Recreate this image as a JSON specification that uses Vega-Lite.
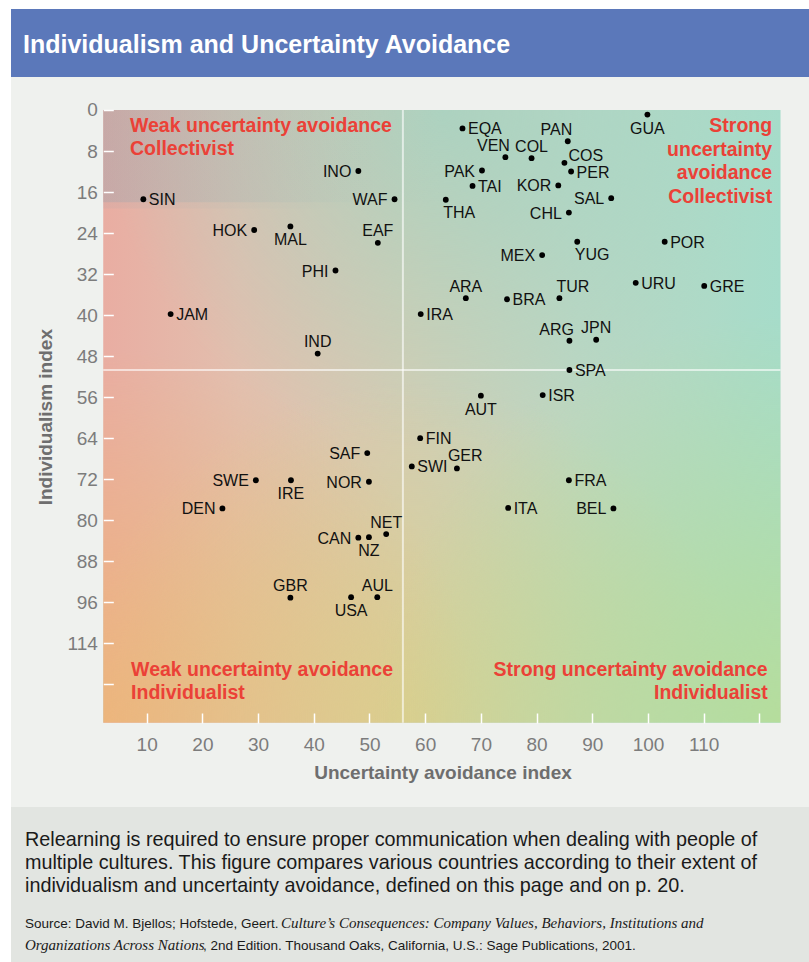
{
  "$schema": "https://vega.github.io/schema/vega-lite/v6.json",
  "padding": {"left": 11, "top": 9, "right": 0, "bottom": 0},
  "background": "#ffffff",
  "spacing": 0,
  "config": {"view": {"stroke": null}, "font": "Liberation Sans"},
  "datasets": {
    "countries": [
      {"c": "SIN", "uai": 9.4, "idv": 17.4},
      {"c": "HOK", "uai": 29.3, "idv": 23.4},
      {"c": "MAL", "uai": 35.8, "idv": 22.7},
      {"c": "INO", "uai": 48.0, "idv": 11.9},
      {"c": "WAF", "uai": 54.5, "idv": 17.4},
      {"c": "EAF", "uai": 51.5, "idv": 25.9},
      {"c": "PHI", "uai": 43.9, "idv": 31.3},
      {"c": "JAM", "uai": 14.3, "idv": 39.8},
      {"c": "IND", "uai": 40.7, "idv": 47.5},
      {"c": "EQA", "uai": 66.7, "idv": 3.6},
      {"c": "VEN", "uai": 74.4, "idv": 9.2},
      {"c": "COL", "uai": 79.1, "idv": 9.4},
      {"c": "PAN", "uai": 85.6, "idv": 6.1},
      {"c": "COS", "uai": 85.0, "idv": 10.3},
      {"c": "PER", "uai": 86.2, "idv": 12.0},
      {"c": "GUA", "uai": 99.9, "idv": 0.9},
      {"c": "PAK", "uai": 70.2, "idv": 11.8},
      {"c": "TAI", "uai": 68.5, "idv": 14.8},
      {"c": "KOR", "uai": 83.9, "idv": 14.7},
      {"c": "SAL", "uai": 93.4, "idv": 17.2},
      {"c": "THA", "uai": 63.7, "idv": 17.5},
      {"c": "CHL", "uai": 85.8, "idv": 20.0},
      {"c": "POR", "uai": 103.0, "idv": 25.7},
      {"c": "MEX", "uai": 81.0, "idv": 28.3},
      {"c": "YUG", "uai": 87.3, "idv": 25.7},
      {"c": "URU", "uai": 97.8, "idv": 33.7},
      {"c": "GRE", "uai": 110.1, "idv": 34.3},
      {"c": "ARA", "uai": 67.3, "idv": 36.7},
      {"c": "BRA", "uai": 74.7, "idv": 36.9},
      {"c": "TUR", "uai": 84.1, "idv": 36.7},
      {"c": "IRA", "uai": 59.2, "idv": 39.8},
      {"c": "ARG", "uai": 85.9, "idv": 45.0},
      {"c": "JPN", "uai": 90.7, "idv": 44.8},
      {"c": "SPA", "uai": 85.9, "idv": 50.7},
      {"c": "AUT", "uai": 70.0, "idv": 55.7},
      {"c": "ISR", "uai": 81.1, "idv": 55.6},
      {"c": "FIN", "uai": 59.1, "idv": 64.0},
      {"c": "SWI", "uai": 57.6, "idv": 69.5},
      {"c": "GER", "uai": 65.7, "idv": 69.9},
      {"c": "SAF", "uai": 49.6, "idv": 66.9},
      {"c": "SWE", "uai": 29.6, "idv": 72.2},
      {"c": "IRE", "uai": 35.9, "idv": 72.2},
      {"c": "NOR", "uai": 49.9, "idv": 72.5},
      {"c": "DEN", "uai": 23.6, "idv": 77.7},
      {"c": "FRA", "uai": 85.8, "idv": 72.2},
      {"c": "ITA", "uai": 74.9, "idv": 77.6},
      {"c": "BEL", "uai": 93.8, "idv": 77.7},
      {"c": "CAN", "uai": 48.0, "idv": 83.4},
      {"c": "NZ", "uai": 49.9, "idv": 83.3},
      {"c": "NET", "uai": 53.0, "idv": 82.7},
      {"c": "GBR", "uai": 35.8, "idv": 95.1},
      {"c": "USA", "uai": 46.7, "idv": 95.0},
      {"c": "AUL", "uai": 51.4, "idv": 95.0}
    ]
  },
  "vconcat": [
    {
      "width": 798,
      "height": 68,
      "view": {"fill": "#5b78ba", "stroke": null},
      "data": {"values": [{"title": "Individualism and Uncertainty Avoidance"}]},
      "mark": {"type": "text", "align": "left", "baseline": "alphabetic", "font": "Liberation Sans", "fontSize": 25, "fontWeight": "bold", "fill": "#ffffff"},
      "encoding": {
        "x": {"datum": 12, "type": "quantitative", "scale": {"domain": [0, 798], "nice": false, "zero": false}, "axis": null},
        "y": {"datum": 43.5, "type": "quantitative", "scale": {"domain": [0, 68], "reverse": true, "nice": false, "zero": false}, "axis": null},
        "text": {"field": "title"}
      }
    },
    {
      "width": 798,
      "height": 730,
      "view": {"fill": "#eff1ee", "stroke": null},
      "layer": [
        {
          "data": {"values": [{"area": "plot"}]},
          "mark": {"type": "rect", "fill": {"gradient": "linear", "x1": 0, "y1": 0, "x2": 1, "y2": 0, "stops": [
            {"offset": 0, "color": "#e9ada2"},
            {"offset": 0.2, "color": "#e2bfae"},
            {"offset": 0.45, "color": "#d3cdb4"},
            {"offset": 0.7, "color": "#bcd6c2"},
            {"offset": 1, "color": "#a6dcca"}
          ]}},
          "encoding": {
            "x": {"datum": 2.2, "type": "quantitative",
              "scale": {"domain": [-14.36, 128.91], "nice": false, "zero": false},
              "axis": {"orient": "bottom", "offset": -94, "zindex": 1,
                "values": [10,15,20,25,30,35,40,45,50,55,60,65,70,75,80,85,90,95,100,105,110,115,120],
                "labelExpr": "datum.value % 10 === 0 && datum.value <= 110 ? datum.label : ''",
                "domain": false, "grid": false, "ticks": true, "tickSize": 10, "tickColor": "#ffffff", "tickWidth": 1.5,
                "labelFont": "Liberation Sans", "labelFontSize": 19, "labelColor": "#7c7c7c", "labelPadding": 12.7,
                "labelFlush": false, "labelOverlap": false,
                "title": "Uncertainty avoidance index", "titleFont": "Liberation Sans", "titleFontSize": 19, "titleFontWeight": "bold",
                "titleColor": "#6e6e6e", "titleX": 431.5, "titleY": 65, "titleAlign": "center", "titleBaseline": "alphabetic"}},
            "x2": {"datum": 123.8},
            "y": {"datum": 0, "type": "quantitative",
              "scale": {"domain": [-6.435, 135.92], "reverse": true, "nice": false, "zero": false},
              "axis": {"orient": "left", "offset": -102.3, "zindex": 1,
                "values": [0,4,8,12,16,20,24,28,32,36,40,44,48,52,56,60,64,68,72,76,80,84,88,92,96,100,104,108,112],
                "labelExpr": "datum.value === 104 ? '114' : (datum.value % 8 === 0 && datum.value <= 96 ? datum.label : '')",
                "domain": false, "grid": false, "ticks": true, "tickSize": 10, "tickColor": "#ffffff", "tickWidth": 1.5,
                "labelFont": "Liberation Sans", "labelFontSize": 19, "labelColor": "#7c7c7c", "labelPadding": 6,
                "labelFlush": false, "labelOverlap": false,
                "title": "Individualism index", "titleFont": "Liberation Sans", "titleFontSize": 19, "titleFontWeight": "bold",
                "titleColor": "#6e6e6e", "titleX": -68.3, "titleY": 339.7, "titleAngle": -90, "titleAlign": "center", "titleBaseline": "middle"}},
            "y2": {"datum": 119.5}
          }
        },
        {
          "data": {"values": [{"area": "top-middle"}]},
          "mark": {"type": "rect", "fill": {"gradient": "radial", "x1": 0.5, "y1": 0.047, "r1": 0, "x2": 0.5, "y2": 0.047, "r2": 0.5, "stops": [
            {"offset": 0, "color": "rgba(150,212,198,0.6)"},
            {"offset": 1, "color": "rgba(150,212,198,0)"}
          ]}},
          "encoding": {"x": {"datum": 2.2, "type": "quantitative"}, "x2": {"datum": 123.8}, "y": {"datum": 0, "type": "quantitative"}, "y2": {"datum": 119.5}}
        },
        {
          "data": {"values": [{"area": "bottom-left"}]},
          "mark": {"type": "rect", "fill": {"gradient": "radial", "x1": 0, "y1": 0.95, "r1": 0, "x2": 0, "y2": 0.95, "r2": 0.55, "stops": [
            {"offset": 0, "color": "rgba(238,180,120,0.9)"},
            {"offset": 1, "color": "rgba(238,180,120,0)"}
          ]}},
          "encoding": {"x": {"datum": 2.2, "type": "quantitative"}, "x2": {"datum": 123.8}, "y": {"datum": 0, "type": "quantitative"}, "y2": {"datum": 119.5}}
        },
        {
          "data": {"values": [{"area": "bottom-middle"}]},
          "mark": {"type": "rect", "fill": {"gradient": "radial", "x1": 0.45, "y1": 0.95, "r1": 0, "x2": 0.45, "y2": 0.95, "r2": 0.5, "stops": [
            {"offset": 0, "color": "rgba(220,208,130,0.7)"},
            {"offset": 1, "color": "rgba(220,208,130,0)"}
          ]}},
          "encoding": {"x": {"datum": 2.2, "type": "quantitative"}, "x2": {"datum": 123.8}, "y": {"datum": 0, "type": "quantitative"}, "y2": {"datum": 119.5}}
        },
        {
          "data": {"values": [{"area": "bottom-right"}]},
          "mark": {"type": "rect", "fill": {"gradient": "radial", "x1": 1, "y1": 0.95, "r1": 0, "x2": 1, "y2": 0.95, "r2": 0.6, "stops": [
            {"offset": 0, "color": "rgba(184,221,148,0.85)"},
            {"offset": 1, "color": "rgba(184,221,148,0)"}
          ]}},
          "encoding": {"x": {"datum": 2.2, "type": "quantitative"}, "x2": {"datum": 123.8}, "y": {"datum": 0, "type": "quantitative"}, "y2": {"datum": 119.5}}
        },
        {
          "data": {"values": [{"area": "top-band"}]},
          "mark": {"type": "rect", "fill": {"gradient": "linear", "x1": 0, "y1": 0, "x2": 1, "y2": 0, "stops": [
            {"offset": 0, "color": "rgba(176,166,170,0.5)"},
            {"offset": 0.18, "color": "rgba(170,180,178,0.32)"},
            {"offset": 0.35, "color": "rgba(165,192,184,0.12)"},
            {"offset": 0.5, "color": "rgba(165,195,185,0)"},
            {"offset": 1, "color": "rgba(165,195,185,0)"}
          ]}},
          "encoding": {"x": {"datum": 2.2, "type": "quantitative"}, "x2": {"datum": 123.8}, "y": {"datum": 0, "type": "quantitative"}, "y2": {"datum": 18.0}}
        },
        {
          "data": {"values": [{"area": "top-band-edge"}]},
          "mark": {"type": "rect", "fill": {"gradient": "linear", "x1": 0, "y1": 0, "x2": 1, "y2": 0, "stops": [
            {"offset": 0, "color": "rgba(176,166,170,0.18)"},
            {"offset": 0.2, "color": "rgba(170,180,178,0.1)"},
            {"offset": 0.4, "color": "rgba(165,195,185,0)"},
            {"offset": 1, "color": "rgba(165,195,185,0)"}
          ]}},
          "encoding": {"x": {"datum": 2.2, "type": "quantitative"}, "x2": {"datum": 123.8}, "y": {"datum": 0, "type": "quantitative"}, "y2": {"datum": 19.2}}
        },
        {
          "data": {"values": [{"divider": "uncertainty avoidance"}]},
          "mark": {"type": "rule", "color": "#ffffff", "opacity": 0.6, "strokeWidth": 2},
          "encoding": {"x": {"datum": 56, "type": "quantitative"}, "y": {"datum": 0, "type": "quantitative"}, "y2": {"datum": 119.5}}
        },
        {
          "data": {"values": [{"divider": "individualism"}]},
          "mark": {"type": "rule", "color": "#ffffff", "opacity": 0.6, "strokeWidth": 2},
          "encoding": {"y": {"datum": 50.7, "type": "quantitative"}, "x": {"datum": 2.2, "type": "quantitative"}, "x2": {"datum": 123.8}}
        },
        {
          "data": {"name": "countries"},
          "mark": {"type": "circle", "size": 34, "color": "#000000", "opacity": 1},
          "encoding": {
            "x": {"field": "uai", "type": "quantitative"},
            "y": {"field": "idv", "type": "quantitative"}
          }
        },
        {
          "data": {"name": "countries"},
          "transform": [{"filter": {"field": "c", "oneOf": ["SIN", "JAM", "IRA", "BRA", "POR", "URU", "GRE", "EQA", "TAI", "PER", "ISR", "FIN", "SWI", "SPA", "FRA", "ITA"]}}],
          "mark": {"type": "text", "align": "left", "baseline": "middle", "dx": 5.5, "dy": 1, "font": "Liberation Sans", "fontSize": 16, "fill": "#111111"},
          "encoding": {"x": {"field": "uai", "type": "quantitative"}, "y": {"field": "idv", "type": "quantitative"}, "text": {"field": "c"}}
        },
        {
          "data": {"name": "countries"},
          "transform": [{"filter": {"field": "c", "oneOf": ["COS"]}}],
          "mark": {"type": "text", "align": "left", "baseline": "alphabetic", "dx": 4, "dy": -1.5, "font": "Liberation Sans", "fontSize": 16, "fill": "#111111"},
          "encoding": {"x": {"field": "uai", "type": "quantitative"}, "y": {"field": "idv", "type": "quantitative"}, "text": {"field": "c"}}
        },
        {
          "data": {"name": "countries"},
          "transform": [{"filter": {"field": "c", "oneOf": ["HOK", "INO", "WAF", "PHI", "PAK", "KOR", "SAL", "CHL", "MEX", "SAF", "SWE", "NOR", "DEN", "CAN", "BEL"]}}],
          "mark": {"type": "text", "align": "right", "baseline": "middle", "dx": -7, "dy": 1, "font": "Liberation Sans", "fontSize": 16, "fill": "#111111"},
          "encoding": {"x": {"field": "uai", "type": "quantitative"}, "y": {"field": "idv", "type": "quantitative"}, "text": {"field": "c"}}
        },
        {
          "data": {"name": "countries"},
          "transform": [{"filter": {"field": "c", "oneOf": ["EAF", "IND", "COL", "ARA", "JPN", "NET", "GBR", "AUL"]}}],
          "mark": {"type": "text", "align": "center", "baseline": "alphabetic", "dy": -6.5, "font": "Liberation Sans", "fontSize": 16, "fill": "#111111"},
          "encoding": {"x": {"field": "uai", "type": "quantitative"}, "y": {"field": "idv", "type": "quantitative"}, "text": {"field": "c"}}
        },
        {
          "data": {"name": "countries"},
          "transform": [{"filter": {"field": "c", "oneOf": ["VEN", "PAN", "ARG"]}}],
          "mark": {"type": "text", "align": "right", "baseline": "alphabetic", "dx": 4.5, "dy": -6, "font": "Liberation Sans", "fontSize": 16, "fill": "#111111"},
          "encoding": {"x": {"field": "uai", "type": "quantitative"}, "y": {"field": "idv", "type": "quantitative"}, "text": {"field": "c"}}
        },
        {
          "data": {"name": "countries"},
          "transform": [{"filter": {"field": "c", "oneOf": ["TUR"]}}],
          "mark": {"type": "text", "align": "left", "baseline": "alphabetic", "dx": -3, "dy": -6, "font": "Liberation Sans", "fontSize": 16, "fill": "#111111"},
          "encoding": {"x": {"field": "uai", "type": "quantitative"}, "y": {"field": "idv", "type": "quantitative"}, "text": {"field": "c"}}
        },
        {
          "data": {"name": "countries"},
          "transform": [{"filter": {"field": "c", "oneOf": ["GER"]}}],
          "mark": {"type": "text", "align": "left", "baseline": "alphabetic", "dx": -9, "dy": -7, "font": "Liberation Sans", "fontSize": 16, "fill": "#111111"},
          "encoding": {"x": {"field": "uai", "type": "quantitative"}, "y": {"field": "idv", "type": "quantitative"}, "text": {"field": "c"}}
        },
        {
          "data": {"name": "countries"},
          "transform": [{"filter": {"field": "c", "oneOf": ["MAL", "GUA", "IRE", "NZ", "USA", "AUT"]}}],
          "mark": {"type": "text", "align": "center", "baseline": "alphabetic", "dy": 19, "font": "Liberation Sans", "fontSize": 16, "fill": "#111111"},
          "encoding": {"x": {"field": "uai", "type": "quantitative"}, "y": {"field": "idv", "type": "quantitative"}, "text": {"field": "c"}}
        },
        {
          "data": {"name": "countries"},
          "transform": [{"filter": {"field": "c", "oneOf": ["YUG", "THA"]}}],
          "mark": {"type": "text", "align": "left", "baseline": "alphabetic", "dx": -2.5, "dy": 18.5, "font": "Liberation Sans", "fontSize": 16, "fill": "#111111"},
          "encoding": {"x": {"field": "uai", "type": "quantitative"}, "y": {"field": "idv", "type": "quantitative"}, "text": {"field": "c"}}
        },
        {
          "data": {"values": [{"note": "Weak uncertainty avoidance\nCollectivist"}]},
          "mark": {"type": "text", "align": "left", "baseline": "alphabetic", "lineBreak": "\n", "lineHeight": 23.7, "font": "Liberation Sans", "fontSize": 19.5, "fontWeight": "bold", "fill": "#eb4137"},
          "encoding": {"x": {"datum": 7.0, "type": "quantitative"}, "y": {"datum": 4.23, "type": "quantitative"}, "text": {"field": "note"}}
        },
        {
          "data": {"values": [{"note": "Strong\nuncertainty\navoidance\nCollectivist"}]},
          "mark": {"type": "text", "align": "right", "baseline": "alphabetic", "lineBreak": "\n", "lineHeight": 23.7, "font": "Liberation Sans", "fontSize": 19.5, "fontWeight": "bold", "fill": "#eb4137"},
          "encoding": {"x": {"datum": 122.3, "type": "quantitative"}, "y": {"datum": 4.3, "type": "quantitative"}, "text": {"field": "note"}}
        },
        {
          "data": {"values": [{"note": "Weak uncertainty avoidance\nIndividualist"}]},
          "mark": {"type": "text", "align": "left", "baseline": "alphabetic", "lineBreak": "\n", "lineHeight": 23.7, "font": "Liberation Sans", "fontSize": 19.5, "fontWeight": "bold", "fill": "#eb4137"},
          "encoding": {"x": {"datum": 7.2, "type": "quantitative"}, "y": {"datum": 110.3, "type": "quantitative"}, "text": {"field": "note"}}
        },
        {
          "data": {"values": [{"note": "Strong uncertainty avoidance\nIndividualist"}]},
          "mark": {"type": "text", "align": "right", "baseline": "alphabetic", "lineBreak": "\n", "lineHeight": 23.7, "font": "Liberation Sans", "fontSize": 19.5, "fontWeight": "bold", "fill": "#eb4137"},
          "encoding": {"x": {"datum": 121.5, "type": "quantitative"}, "y": {"datum": 110.3, "type": "quantitative"}, "text": {"field": "note"}}
        }
      ]
    },
    {
      "width": 798,
      "height": 155,
      "view": {"fill": "#e2e5e1", "stroke": null},
      "layer": [
        {
          "data": {"values": [{"caption": "Relearning is required to ensure proper communication when dealing with people of\nmultiple cultures. This figure compares various countries according to their extent of\nindividualism and uncertainty avoidance, defined on this page and on p. 20."}]},
          "mark": {"type": "text", "align": "left", "baseline": "alphabetic", "lineBreak": "\n", "lineHeight": 23, "font": "Liberation Sans", "fontSize": 19.8, "fill": "#1a1a1a"},
          "encoding": {
            "x": {"datum": 14, "type": "quantitative", "scale": {"domain": [0, 798], "nice": false, "zero": false}, "axis": null},
            "y": {"datum": 38.5, "type": "quantitative", "scale": {"domain": [0, 155], "reverse": true, "nice": false, "zero": false}, "axis": null},
            "text": {"field": "caption"}
          }
        },
        {
          "data": {"values": [{"source": "Source: David M. Bjellos; Hofstede, Geert."}]},
          "mark": {"type": "text", "align": "left", "baseline": "alphabetic", "font": "Liberation Sans", "fontSize": 13.5, "fill": "#1a1a1a"},
          "encoding": {"x": {"datum": 14, "type": "quantitative"}, "y": {"datum": 121, "type": "quantitative"}, "text": {"field": "source"}}
        },
        {
          "data": {"values": [{"source": "Culture’s Consequences: Company Values, Behaviors, Institutions and"}]},
          "mark": {"type": "text", "align": "left", "baseline": "alphabetic", "font": "Liberation Serif", "fontStyle": "italic", "fontSize": 15, "fill": "#1a1a1a"},
          "encoding": {"x": {"datum": 270, "type": "quantitative"}, "y": {"datum": 121, "type": "quantitative"}, "text": {"field": "source"}}
        },
        {
          "data": {"values": [{"source": "Organizations Across Nations"}]},
          "mark": {"type": "text", "align": "left", "baseline": "alphabetic", "font": "Liberation Serif", "fontStyle": "italic", "fontSize": 15, "fill": "#1a1a1a"},
          "encoding": {"x": {"datum": 14, "type": "quantitative"}, "y": {"datum": 143, "type": "quantitative"}, "text": {"field": "source"}}
        },
        {
          "data": {"values": [{"source": ", 2nd Edition. Thousand Oaks, California, U.S.: Sage Publications, 2001."}]},
          "mark": {"type": "text", "align": "left", "baseline": "alphabetic", "font": "Liberation Sans", "fontSize": 13.5, "fill": "#1a1a1a"},
          "encoding": {"x": {"datum": 192, "type": "quantitative"}, "y": {"datum": 143, "type": "quantitative"}, "text": {"field": "source"}}
        }
      ]
    }
  ]
}
